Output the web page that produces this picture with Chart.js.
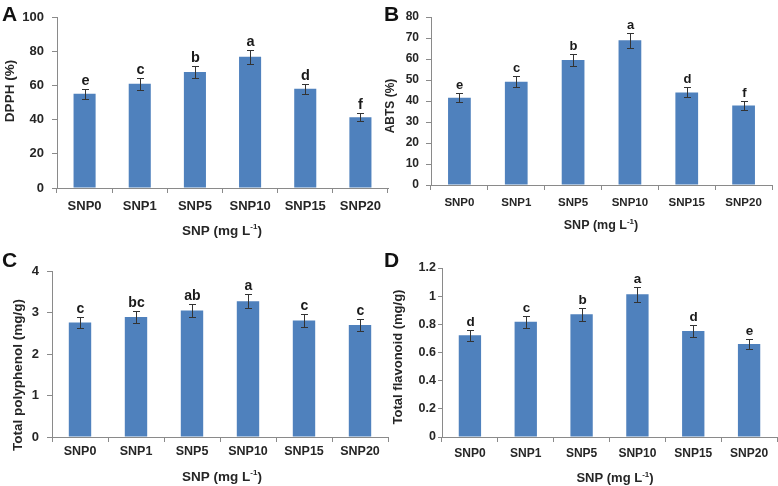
<!DOCTYPE html>
<html>
<head>
<meta charset="utf-8">
<script src="https://cdn.jsdelivr.net/npm/chart.js@4.4.1/dist/chart.umd.min.js"></script>
<style>
  html, body { margin: 0; padding: 0; background: #fff; }
  body { width: 778px; height: 486px; position: relative; overflow: hidden; font-family: 'Liberation Sans', Arial, sans-serif; }
  .panel { position: absolute; }
  .tag { position: absolute; font-weight: bold; font-size: 21px; line-height: 21px; color: #111; z-index: 5; }
</style>
</head>
<body>
<div class="panel" style="left:0;top:0;width:390px;height:245px"><canvas id="chartA"></canvas></div>
<div class="panel" style="left:380px;top:0;width:398px;height:245px"><canvas id="chartB"></canvas></div>
<div class="panel" style="left:0;top:245px;width:390px;height:241px"><canvas id="chartC"></canvas></div>
<div class="panel" style="left:380px;top:245px;width:398px;height:241px"><canvas id="chartD"></canvas></div>
<div class="tag" style="left:2px;top:3px">A</div>
<div class="tag" style="left:384px;top:3px">B</div>
<div class="tag" style="left:2px;top:249px">C</div>
<div class="tag" style="left:384px;top:249px">D</div>
<script>
// Data
const categories = ['SNP0', 'SNP1', 'SNP5', 'SNP10', 'SNP15', 'SNP20'];

const dpphValues = [55.1, 61.0, 67.8, 76.7, 58.0, 41.4];
const dpphErrors = [3.0, 3.4, 3.4, 4.0, 3.0, 2.3];
const dpphLetters = ['e', 'c', 'b', 'a', 'd', 'f'];
const dpphTicks = [0, 20, 40, 60, 80, 100];

const abtsValues = [41.6, 49.2, 59.5, 68.9, 44.1, 37.9];
const abtsErrors = [2.3, 2.7, 3.0, 3.5, 2.4, 2.0];
const abtsLetters = ['e', 'c', 'b', 'a', 'd', 'f'];
const abtsTicks = [0, 10, 20, 30, 40, 50, 60, 70, 80];

const polyValues = [2.76, 2.89, 3.05, 3.27, 2.81, 2.70];
const polyErrors = [0.14, 0.15, 0.155, 0.17, 0.15, 0.14];
const polyLetters = ['c', 'bc', 'ab', 'a', 'c', 'c'];
const polyTicks = [0, 1, 2, 3, 4];

const flavValues = [0.722, 0.819, 0.871, 1.013, 0.753, 0.66];
const flavErrors = [0.038, 0.043, 0.045, 0.052, 0.04, 0.035];
const flavLetters = ['d', 'c', 'b', 'a', 'd', 'e'];
const flavTicks = [0, 0.2, 0.4, 0.6, 0.8, 1, 1.2];

const FONT = "'Liberation Sans', Arial, sans-serif";
const TEXT = '#262626';
const AXIS = '#8a8a8a';
const BAR = '#4F81BD';

// error bars, significance letters and axis titles
const errorBarPlugin = {
  id: 'errorBars',
  afterDatasetsDraw(chart) {
    const { ctx, scales: { x, y } } = chart;
    const ds = chart.data.datasets[0];
    const cfg = chart.config.options.panel;
    ctx.save();
    ctx.strokeStyle = '#333';
    ctx.lineWidth = 1;
    ctx.fillStyle = '#1a1a1a';
    ctx.font = `bold ${cfg.letterSize}px ${FONT}`;
    ctx.textAlign = 'center';
    ctx.textBaseline = 'alphabetic';
    ds.data.forEach((v, i) => {
      const px = Math.round(x.getPixelForValue(i)) + 0.5;
      const top = Math.round(y.getPixelForValue(v + ds.errors[i])) + 0.5;
      const bot = Math.round(y.getPixelForValue(v - ds.errors[i])) + 0.5;
      ctx.beginPath();
      ctx.moveTo(px, top); ctx.lineTo(px, bot);
      ctx.moveTo(px - 3.5, top); ctx.lineTo(px + 3.5, top);
      ctx.moveTo(px - 3.5, bot); ctx.lineTo(px + 3.5, bot);
      ctx.stroke();
      ctx.fillText(ds.letters[i], px, top - 5);
    });
    ctx.restore();
  },
  afterDraw(chart) {
    const { ctx } = chart;
    const cfg = chart.config.options.panel;
    ctx.save();
    ctx.fillStyle = TEXT;
    // y title
    ctx.translate(cfg.yTitle.x, cfg.yTitle.y);
    ctx.rotate(-Math.PI / 2);
    ctx.font = `bold ${cfg.yTitle.size}px ${FONT}`;
    ctx.textAlign = 'center';
    ctx.textBaseline = 'middle';
    ctx.fillText(cfg.yTitle.text, 0, 0);
    ctx.restore();

    // x title with superscript -1
    ctx.save();
    ctx.fillStyle = TEXT;
    ctx.textAlign = 'left';
    ctx.textBaseline = 'middle';
    const s = cfg.xTitle.size;
    const parts = [
      { t: 'SNP (mg L', size: s, dy: 0 },
      { t: '-1', size: Math.round(s * 0.62), dy: -s * 0.32 },
      { t: ')', size: s, dy: 0 }
    ];
    let total = 0;
    parts.forEach(p => { ctx.font = `bold ${p.size}px ${FONT}`; p.w = ctx.measureText(p.t).width; total += p.w; });
    let cx = cfg.xTitle.x - total / 2;
    parts.forEach(p => {
      ctx.font = `bold ${p.size}px ${FONT}`;
      ctx.fillText(p.t, cx, cfg.xTitle.y + p.dy);
      cx += p.w;
    });
    ctx.restore();
  }
};

function makePanel(id, values, errors, letters, ticks, cfg) {
  return new Chart(document.getElementById(id), {
    type: 'bar',
    data: {
      labels: categories,
      datasets: [{
        data: values,
        errors: errors,
        letters: letters,
        backgroundColor: BAR,
        borderWidth: 0,
        barPercentage: 0.4,
        categoryPercentage: 1
      }]
    },
    options: {
      panel: cfg,
      responsive: true,
      maintainAspectRatio: false,
      animation: false,
      events: [],
      layout: { padding: { top: cfg.top, right: cfg.right, left: 0, bottom: 0 } },
      plugins: { legend: { display: false }, tooltip: { enabled: false } },
      scales: {
        x: {
          grid: { display: true, drawOnChartArea: false, drawTicks: true, tickLength: 5, color: AXIS },
          border: { color: AXIS, width: 1 },
          ticks: { color: TEXT, font: { family: FONT, size: cfg.catSize, weight: 'bold' }, padding: cfg.catPad, maxRotation: 0, autoSkip: false },
          afterFit(s) { s.height = cfg.xHeight; }
        },
        y: {
          min: 0,
          max: ticks[ticks.length - 1],
          afterBuildTicks(s) { s.ticks = ticks.map(v => ({ value: v })); },
          grid: { display: true, drawOnChartArea: false, drawTicks: true, tickLength: cfg.yTick, color: AXIS },
          border: { color: AXIS, width: 1 },
          ticks: { color: TEXT, font: { family: FONT, size: cfg.tickSize, weight: 'bold' }, padding: cfg.tickPad, callback: v => String(v) },
          afterFit(s) { s.width = cfg.left; }
        }
      }
    },
    plugins: [errorBarPlugin]
  });
}

makePanel('chartA', dpphValues, dpphErrors, dpphLetters, dpphTicks, {
  left: 57, right: 2, top: 17, xHeight: 57,
  tickSize: 13, tickPad: 8, yTick: 5, catSize: 13, catPad: 6, letterSize: 14.5,
  yTitle: { text: 'DPPH (%)', x: 10, y: 91, size: 13.5 },
  xTitle: { x: 222, y: 231, size: 13.5 }
});

makePanel('chartB', abtsValues, abtsErrors, abtsLetters, abtsTicks, {
  left: 51, right: 6, top: 17, xHeight: 60,
  tickSize: 12, tickPad: 7, yTick: 5, catSize: 11.5, catPad: 6, letterSize: 13,
  yTitle: { text: 'ABTS (%)', x: 11, y: 106, size: 12 },
  xTitle: { x: 221, y: 226, size: 12.5 }
});

makePanel('chartC', polyValues, polyErrors, polyLetters, polyTicks, {
  left: 52, right: 2, top: 26, xHeight: 49,
  tickSize: 13, tickPad: 8, yTick: 5, catSize: 12.5, catPad: 2, letterSize: 14,
  yTitle: { text: 'Total polyphenol (mg/g)', x: 18.5, y: 130, size: 13.5 },
  xTitle: { x: 222, y: 232, size: 13.5 }
});

makePanel('chartD', flavValues, flavErrors, flavLetters, flavTicks, {
  left: 62, right: 1, top: 23, xHeight: 49,
  tickSize: 12.5, tickPad: 2, yTick: 4, catSize: 12, catPad: 4, letterSize: 13.5,
  yTitle: { text: 'Total flavonoid (mg/g)', x: 18.5, y: 112, size: 13 },
  xTitle: { x: 235, y: 233.5, size: 13 }
});
</script>
</body>
</html>
